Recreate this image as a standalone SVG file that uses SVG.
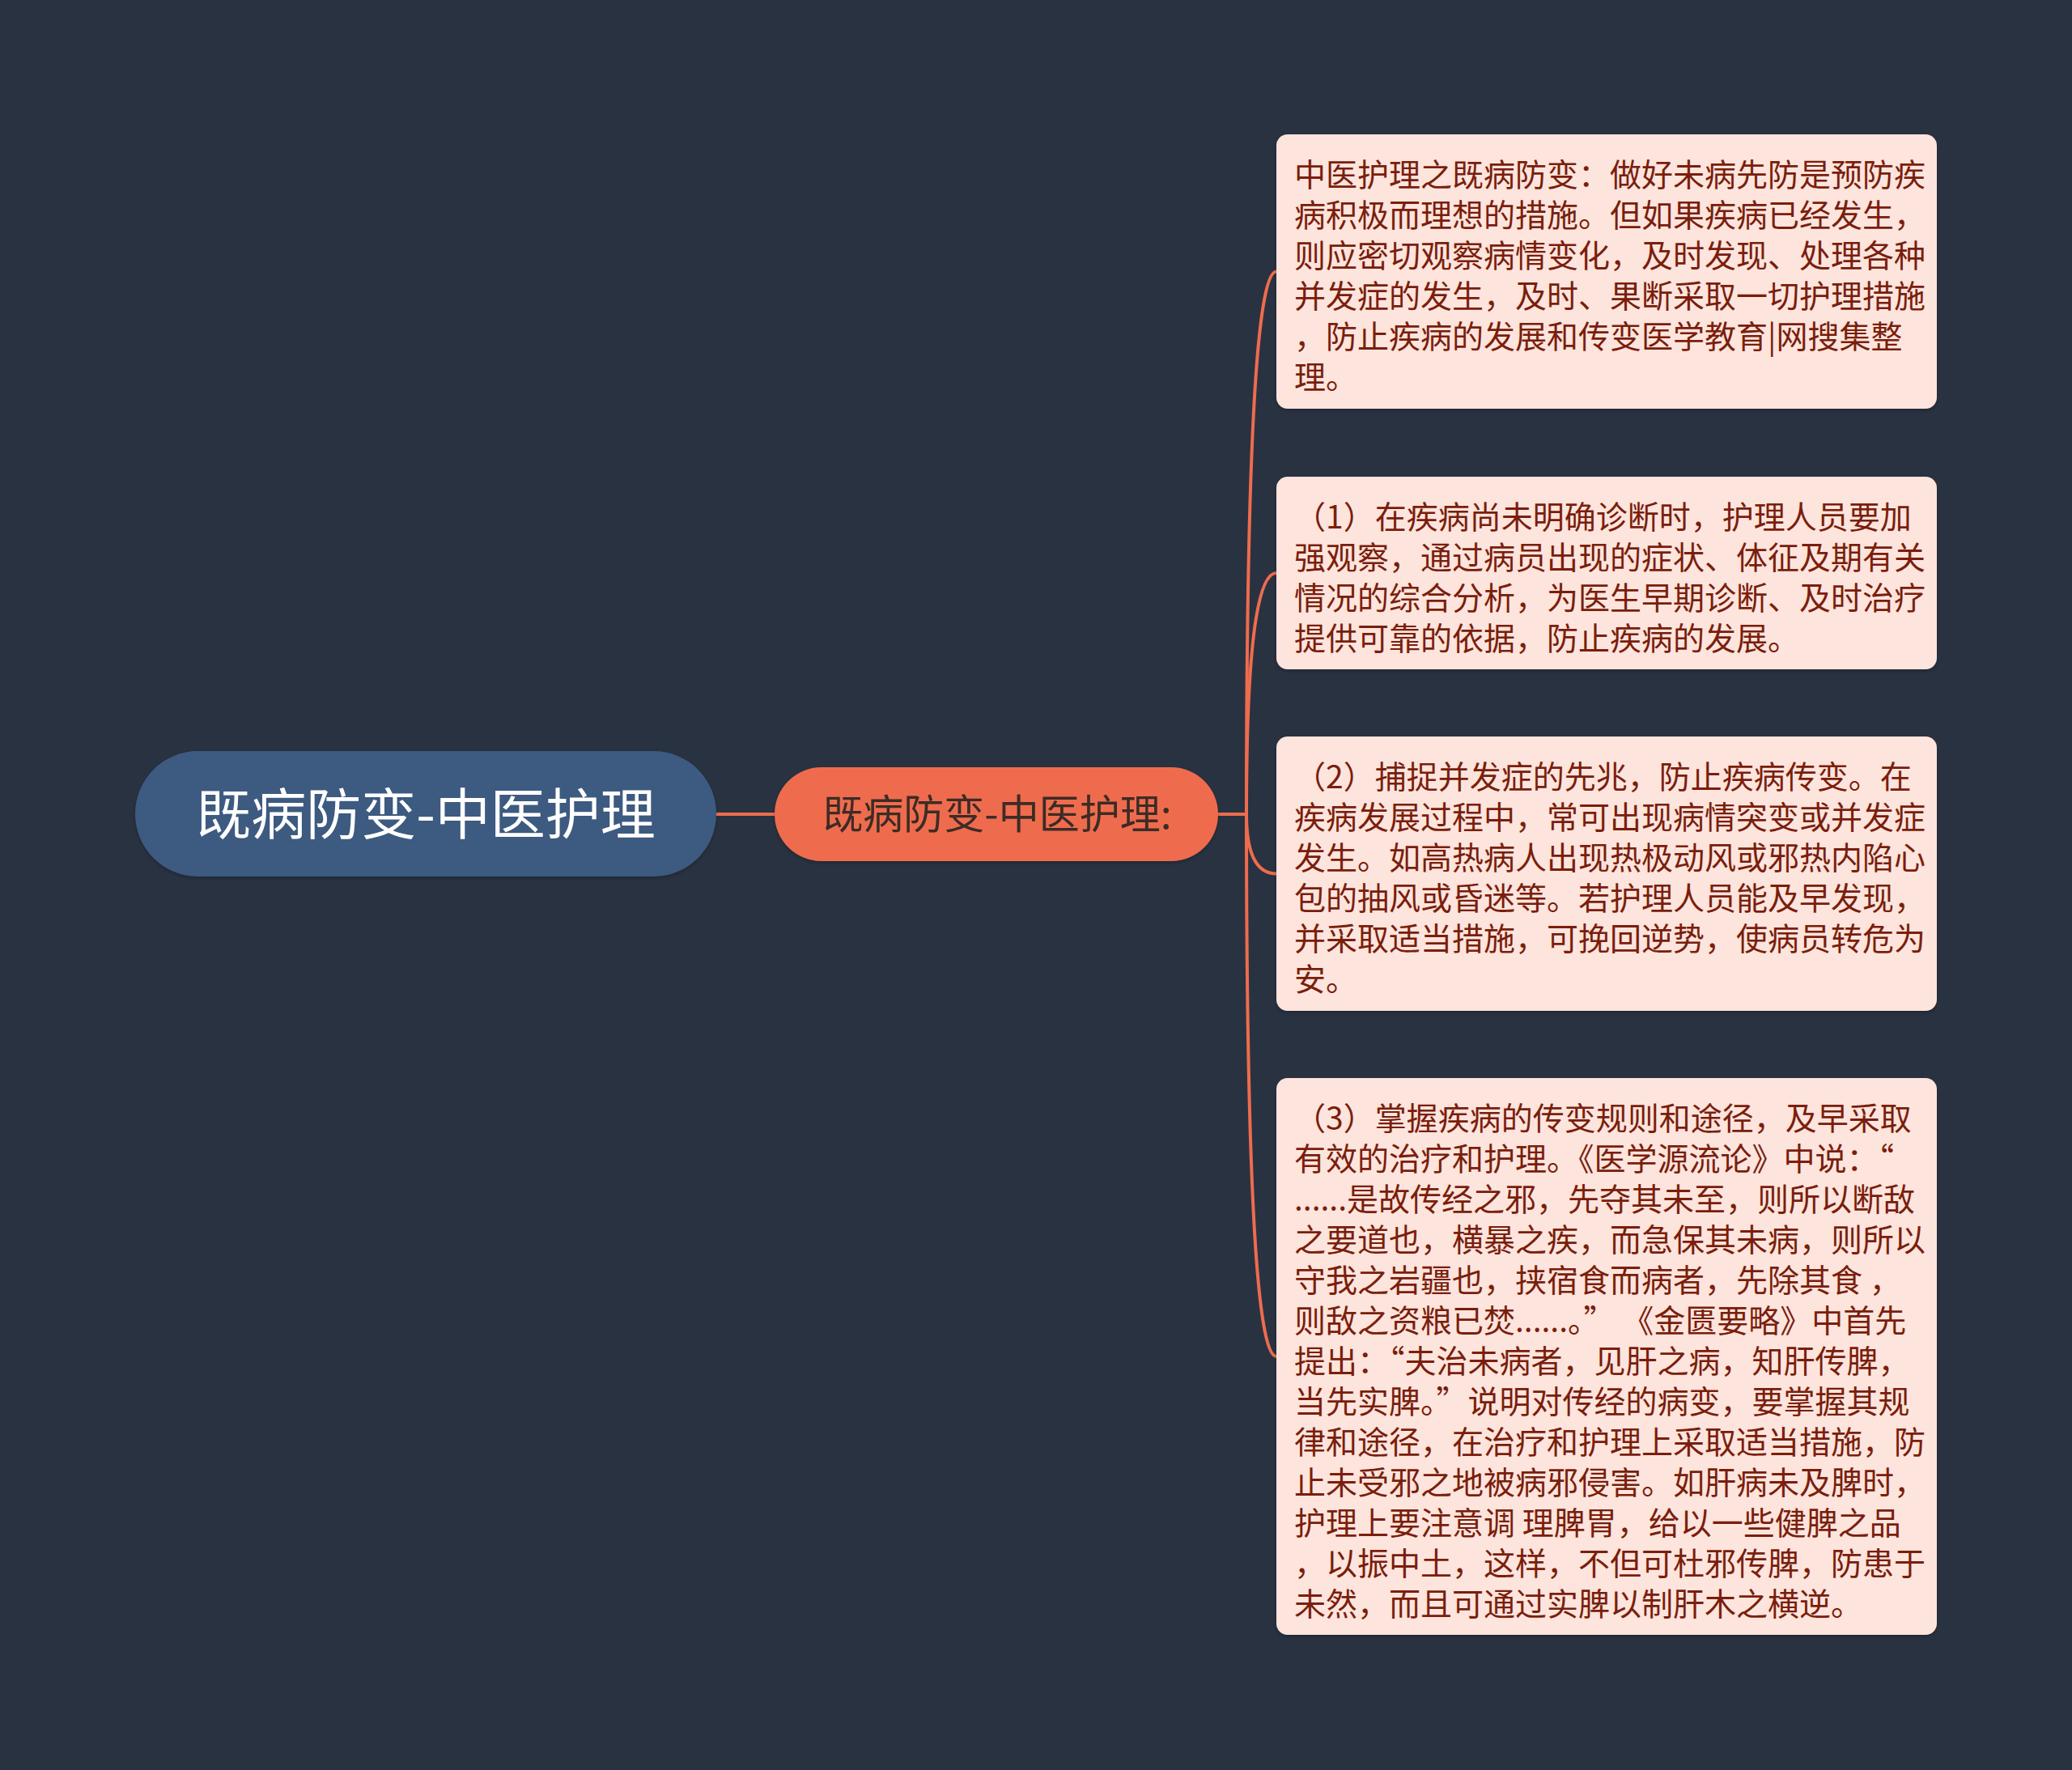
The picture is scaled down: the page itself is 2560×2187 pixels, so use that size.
<svg xmlns="http://www.w3.org/2000/svg" width="2560" height="2187" viewBox="0 0 2560 2187">
<defs>
<style>
.bg{fill:#293241}
.conn{fill:none;stroke:#ee6c4d;stroke-width:4;stroke-linecap:round}
.root{fill:#3d5a80}
.mid{fill:#ee6c4d}
.box{fill:#fde4dd}
.rt{font-family:"Noto Sans CJK SC","Noto Sans",sans-serif;font-size:68px;fill:#ffffff;text-anchor:middle}
.mt{font-family:"Noto Sans CJK SC","Noto Sans",sans-serif;font-size:50px;fill:#3d2b26;text-anchor:middle}
.bt{font-family:"Noto Sans CJK SC","Noto Sans",sans-serif;font-size:39px;fill:#7a1e0c}
</style>
<filter id="sh" x="-5%" y="-5%" width="110%" height="115%">
<feDropShadow dx="0" dy="2" stdDeviation="2" flood-color="#000000" flood-opacity="0.25"/>
</filter>
</defs>
<rect class="bg" x="0" y="0" width="2560" height="2187"/>
<g id="connectors">
<path class="conn" d="M 885 1006 L 957 1006"/>
<path class="conn" d="M 1505 1006 L 1540 1006 Q 1540 335.5 1577 335.5"/>
<path class="conn" d="M 1540 1006 Q 1540 708 1577 708"/>
<path class="conn" d="M 1540 1006 Q 1540 1079.5 1577 1079.5"/>
<path class="conn" d="M 1540 1006 Q 1540 1676 1577 1676"/>
</g>
<g id="root">
<rect class="root" x="167" y="928" width="718" height="155" rx="77.5" filter="url(#sh)"/>
<text class="rt" x="526" y="1031">既病防变-中医护理</text>
</g>
<g id="mid">
<rect class="mid" x="957" y="948" width="548" height="116" rx="58" filter="url(#sh)"/>
<text class="mt" x="1232" y="1024">既病防变-中医护理:</text>
</g>
<g id="box1">
<rect class="box" x="1577" y="166" width="816" height="339" rx="14" filter="url(#sh)"/>
<text class="bt" x="1599" y="229.5">中医护理之既病防变：做好未病先防是预防疾</text>
<text class="bt" x="1599" y="279.5">病积极而理想的措施。但如果疾病已经发生，</text>
<text class="bt" x="1599" y="329.5">则应密切观察病情变化，及时发现、处理各种</text>
<text class="bt" x="1599" y="379.5">并发症的发生，及时、果断采取一切护理措施</text>
<text class="bt" x="1599" y="429.5">，防止疾病的发展和传变医学教育|网搜集整</text>
<text class="bt" x="1599" y="479.5">理。</text>
</g>
<g id="box2">
<rect class="box" x="1577" y="589" width="816" height="238" rx="14" filter="url(#sh)"/>
<text class="bt" x="1599" y="652.5">（1）在疾病尚未明确诊断时，护理人员要加</text>
<text class="bt" x="1599" y="702.5">强观察，通过病员出现的症状、体征及期有关</text>
<text class="bt" x="1599" y="752.5">情况的综合分析，为医生早期诊断、及时治疗</text>
<text class="bt" x="1599" y="802.5">提供可靠的依据，防止疾病的发展。</text>
</g>
<g id="box3">
<rect class="box" x="1577" y="910" width="816" height="339" rx="14" filter="url(#sh)"/>
<text class="bt" x="1599" y="973.5">（2）捕捉并发症的先兆，防止疾病传变。在</text>
<text class="bt" x="1599" y="1023.5">疾病发展过程中，常可出现病情突变或并发症</text>
<text class="bt" x="1599" y="1073.5">发生。如高热病人出现热极动风或邪热内陷心</text>
<text class="bt" x="1599" y="1123.5">包的抽风或昏迷等。若护理人员能及早发现，</text>
<text class="bt" x="1599" y="1173.5">并采取适当措施，可挽回逆势，使病员转危为</text>
<text class="bt" x="1599" y="1223.5">安。</text>
</g>
<g id="box4">
<rect class="box" x="1577" y="1332" width="816" height="688" rx="14" filter="url(#sh)"/>
<text class="bt" x="1599" y="1395.5">（3）掌握疾病的传变规则和途径，及早采取</text>
<text class="bt" x="1599" y="1445.5">有效的治疗和护理。《医学源流论》中说：“</text>
<text class="bt" x="1599" y="1495.5">......是故传经之邪，先夺其未至，则所以断敌</text>
<text class="bt" x="1599" y="1545.5">之要道也，横暴之疾，而急保其未病，则所以</text>
<text class="bt" x="1599" y="1595.5">守我之岩疆也，挟宿食而病者，先除其食 ，</text>
<text class="bt" x="1599" y="1645.5">则敌之资粮已焚......。” 《金匮要略》中首先</text>
<text class="bt" x="1599" y="1695.5">提出：“夫治未病者，见肝之病，知肝传脾，</text>
<text class="bt" x="1599" y="1745.5">当先实脾。”说明对传经的病变，要掌握其规</text>
<text class="bt" x="1599" y="1795.5">律和途径，在治疗和护理上采取适当措施，防</text>
<text class="bt" x="1599" y="1845.5">止未受邪之地被病邪侵害。如肝病未及脾时，</text>
<text class="bt" x="1599" y="1895.5">护理上要注意调 理脾胃，给以一些健脾之品</text>
<text class="bt" x="1599" y="1945.5">，以振中土，这样，不但可杜邪传脾，防患于</text>
<text class="bt" x="1599" y="1995.5">未然，而且可通过实脾以制肝木之横逆。</text>
</g>
</svg>
